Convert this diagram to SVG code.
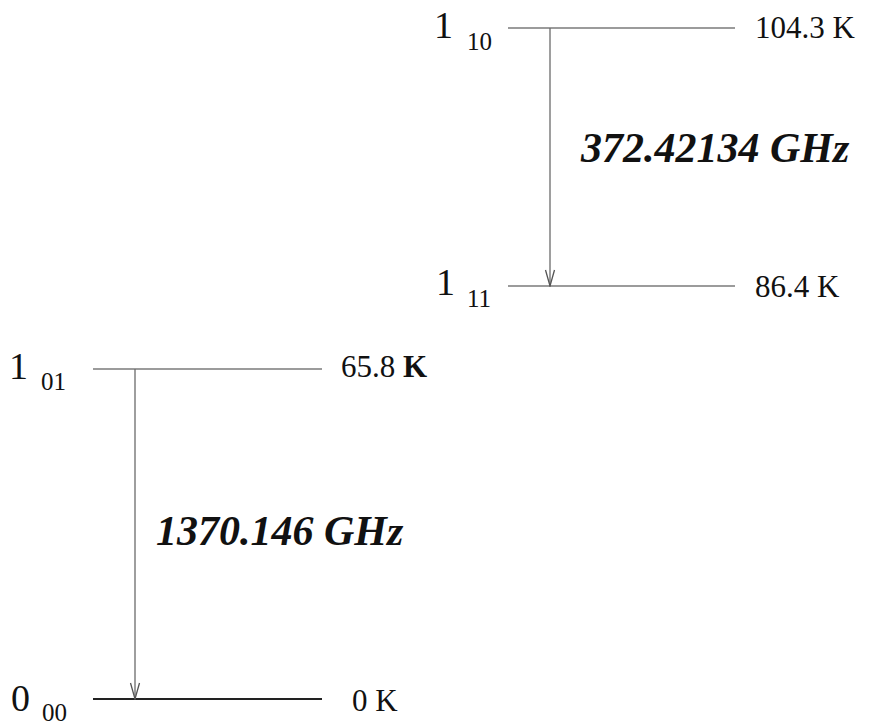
<svg xmlns="http://www.w3.org/2000/svg" width="869" height="727" viewBox="0 0 869 727">
<defs>
<style>
.lvl{stroke:#7a7a7a;stroke-width:1.6;fill:none}
.lvl0{stroke:#222;stroke-width:2;fill:none}
.arr{stroke:#6a6a6a;stroke-width:1.3;fill:none}
.big{font-family:"Liberation Serif",serif;font-size:38px;fill:#111}
.sub{font-family:"Liberation Serif",serif;font-size:25px;fill:#111}
.en{font-family:"Liberation Serif",serif;font-size:31px;fill:#111}
.freq{font-family:"Liberation Serif",serif;font-size:42px;font-weight:bold;font-style:italic;fill:#111}
</style>
<marker id="vhead" markerWidth="18" markerHeight="12" refX="17" refY="6" orient="auto" markerUnits="userSpaceOnUse" viewBox="0 0 18 12">
<path d="M1,1.5 L17,6 L1,10.5" fill="none" stroke="#555" stroke-width="1.3"/>
</marker>
</defs>
<rect width="869" height="727" fill="#fff"/>
<g id="level-1-10">
<line class="lvl" x1="508" y1="28" x2="735" y2="28"/>
<text class="big" x="434" y="38">1</text>
<text class="sub" x="467" y="50">10</text>
<text class="en" x="755" y="38">104.3 K</text>
</g>
<g id="level-1-11">
<line class="lvl" x1="508" y1="286" x2="735" y2="286"/>
<text class="big" x="436" y="295">1</text>
<text class="sub" x="467" y="307">11</text>
<text class="en" x="755" y="297">86.4 K</text>
</g>
<g id="level-1-01">
<line class="lvl" x1="93" y1="369" x2="322" y2="369"/>
<text class="big" x="9" y="379">1</text>
<text class="sub" x="41" y="390">01</text>
<text class="en" x="341" y="377">65.8 <tspan font-weight="bold">K</tspan></text>
</g>
<g id="level-0-00">
<line class="lvl0" x1="93" y1="699" x2="322" y2="699"/>
<text class="big" x="11" y="711">0</text>
<text class="sub" x="42" y="721">00</text>
<text class="en" x="352" y="711">0 K</text>
</g>
<g id="connectors">
<line class="arr" x1="550" y1="28" x2="550" y2="286" marker-end="url(#vhead)"/>
<text class="freq" x="581" y="162">372.42134 GHz</text>
<line class="arr" x1="135" y1="369" x2="135" y2="699" marker-end="url(#vhead)"/>
<text class="freq" x="156" y="545">1370.146 GHz</text>
</g>
</svg>
